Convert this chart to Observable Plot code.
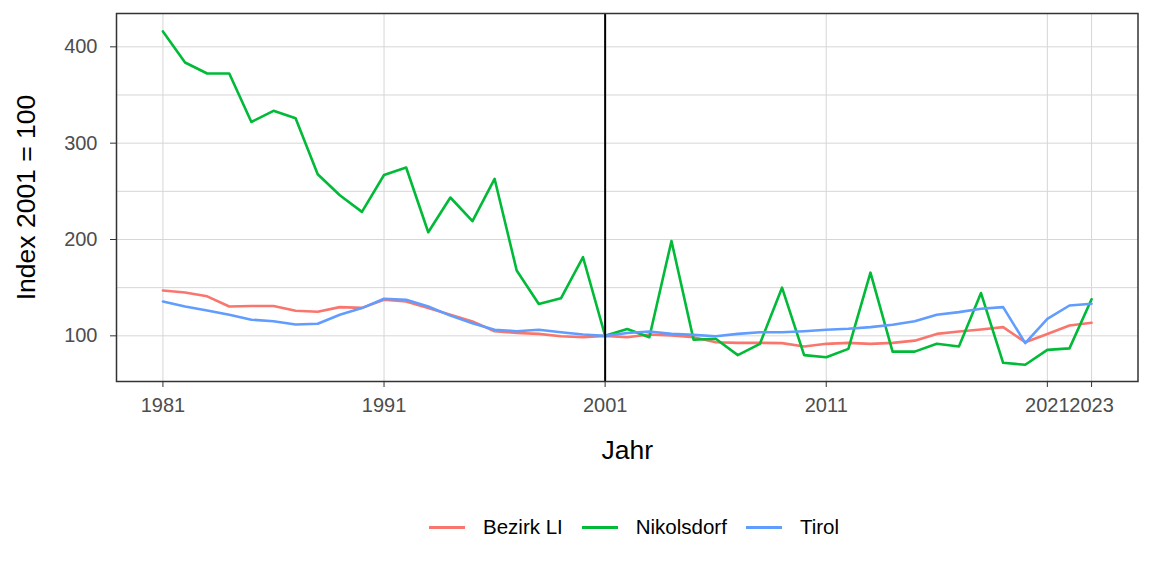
<!DOCTYPE html>
<html><head><meta charset="utf-8">
<script src="https://cdn.jsdelivr.net/npm/d3@7"></script>
<script src="https://cdn.jsdelivr.net/npm/@observablehq/plot@0.6"></script>
<style>
body{margin:0;background:#fff;font-family:"Liberation Sans",Arial,sans-serif;}
#wrap{position:relative;width:1152px;height:576px;overflow:hidden;}
#legend{position:absolute;top:509px;left:429px;display:flex;align-items:center;height:36px;font-size:20.5px;color:#000;white-space:nowrap;}
.item{display:flex;align-items:center;margin-right:19px;}
.key{width:36px;height:3px;margin-right:18px;}
</style></head><body><div id="wrap"><div id="chart"></div><div id="legend"></div></div>
<script>
const years = [1981,1982,1983,1984,1985,1986,1987,1988,1989,1990,
  1991,1992,1993,1994,1995,1996,1997,1998,1999,2000,
  2001,2002,2003,2004,2005,2006,2007,2008,2009,2010,
  2011,2012,2013,2014,2015,2016,2017,2018,2019,2020,
  2021,2022,2023];
const seriesNames = ["Bezirk LI","Nikolsdorf","Tirol"];
const seriesColors = ["#F8766D","#00BA38","#619CFF"];
const bezirkLI = [147,145,141,130.5,131,131,126,125,129.8,129,
  137.5,135.7,128.8,122,115,104.8,103,102,99.5,98.5,
  100,98.5,101.4,100.3,98.5,93.4,92.7,92.7,92.4,89,
  91.7,92.7,91.7,92.7,95,102,104.5,106.6,109,93.4,
  102,110.7,113.5];
const nikolsdorf = [416,383.7,372.3,372.3,322,333.6,325.9,267.8,246,228.7,
  267,274.7,207.5,243.6,219,263,167.8,133,139,181.6,
  100,107,98.5,198.5,96,97,80,91.7,150,80,
  77.7,86.5,165.6,83.6,83.6,91.7,89,144.4,72,70,
  85.4,87,138];
const tirol = [135.7,130.5,126.4,121.9,116.7,115.2,111.8,112.5,121.9,128.8,
  138.5,137.5,130.5,121,113,106.3,104.8,106.3,103.8,101.4,
  100,103,104.5,102,101,99.6,102,103.8,103.8,104.8,
  106.3,107.3,109,111.5,115.2,121.9,124.6,128.1,129.8,92.4,
  117.7,131.5,133.3];
const xTicks = [1981,1991,2001,2011,2021,2023];
const yTicks = [100,200,300,400];
const yGrid = [100,150,200,250,300,350,400];
const refYear = [2001];

const values = [bezirkLI, nikolsdorf, tirol];
const rows = [];
seriesNames.forEach((name, i) => {
  years.forEach((yr, j) => rows.push({series: name, year: yr, value: values[i][j]}));
});

const font = "'Liberation Sans', Arial, sans-serif";
const chart = Plot.plot({
  width: 1152, height: 490,
  marginLeft: 116, marginRight: 14.5, marginTop: 13, marginBottom: 109,
  style: {fontFamily: font, background: "#fff"},
  x: {domain: [1978.9, 2025.1]},
  y: {domain: [52.6, 434.6]},
  color: {domain: seriesNames, range: seriesColors},
  marks: [
    Plot.gridY(yGrid, {stroke: "#d6d6d6", strokeOpacity: 1, strokeWidth: 1}),
    Plot.gridX(xTicks, {stroke: "#d6d6d6", strokeOpacity: 1, strokeWidth: 1}),
    Plot.line(rows, {x: "year", y: "value", stroke: "series", strokeWidth: 2.6}),
    Plot.ruleX(refYear, {stroke: "#000", strokeWidth: 2}),
    Plot.frame({stroke: "#333", strokeWidth: 1.5}),
    Plot.axisX(xTicks, {tickSize: 6, tickPadding: 10, fontSize: 20, stroke: "#333", fill: "#4d4d4d", tickFormat: d => String(d), label: null}),
    Plot.axisY(yTicks, {tickSize: 6, tickPadding: 13, fontSize: 20, stroke: "#333", fill: "#4d4d4d", label: null}),
    Plot.text(["Jahr"], {frameAnchor: "bottom", lineAnchor: "middle", dy: 69, fontSize: 26.5, fill: "#000"}),
    Plot.text(["Index 2001 = 100"], {frameAnchor: "left", textAnchor: "middle", lineAnchor: "middle", rotate: -90, dx: -90, fontSize: 26.5, fill: "#000"})
  ]
});
document.getElementById("chart").appendChild(chart);

const legend = document.getElementById("legend");
seriesNames.forEach((name, i) => {
  const item = document.createElement("div");
  item.className = "item";
  const key = document.createElement("span");
  key.className = "key";
  key.style.background = seriesColors[i];
  const label = document.createElement("span");
  label.textContent = name;
  item.appendChild(key);
  item.appendChild(label);
  legend.appendChild(item);
});
</script></body></html>
